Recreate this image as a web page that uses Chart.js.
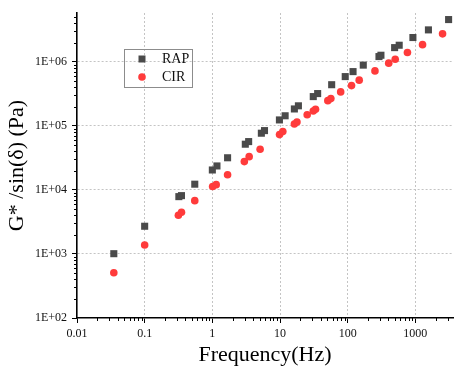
<!DOCTYPE html>
<html>
<head>
<meta charset="utf-8">
<script src="https://cdn.jsdelivr.net/npm/chart.js@4.4.1/dist/chart.umd.min.js"></script>
<style>
  body { margin: 0; background: #fff; }
</style>
</head>
<body>
<canvas id="gstar-chart" width="458" height="367"></canvas>
<script>
// values
const rapFreq = [0.035, 0.1, 0.32, 0.35, 0.55, 1.0, 1.17, 1.68, 3.07, 3.44, 5.3, 5.9, 9.8, 11.9, 16.3, 18.7, 31, 36, 58, 92, 120, 170, 290, 310, 494, 577, 920, 1560, 3100];
const rapG = [1010, 2710, 7860, 8150, 12300, 20500, 23700, 31800, 51800, 56900, 76900, 84500, 124000, 144000, 184000, 206000, 287000, 320000, 440000, 589000, 705000, 890000, 1210000, 1270000, 1670000, 1820000, 2400000, 3160000, 4580000];
const cirFreq = [0.035, 0.1, 0.315, 0.35, 0.55, 1.01, 1.14, 1.68, 2.97, 3.5, 5.08, 9.84, 11.0, 16.3, 17.8, 25.2, 31, 33.5, 50.9, 56.4, 78.8, 114, 148, 253, 404, 504, 764, 1277, 2524];
const cirG = [510, 1380, 4030, 4480, 6800, 11300, 12100, 17300, 27700, 33100, 43300, 73100, 81500, 107000, 115000, 149000, 171000, 182000, 248000, 267000, 340000, 426000, 518000, 723000, 955000, 1100000, 1400000, 1860000, 2740000];

const xTickValues = [0.01, 0.1, 1, 10, 100, 1000];
const xTickLabels = ['0.01', '0.1', '1', '10', '100', '1000'];
const yTickValues = [1e2, 1e3, 1e4, 1e5, 1e6];
const yTickLabels = ['1E+02', '1E+03', '1E+04', '1E+05', '1E+06'];

const serif = 'Liberation Serif';

function toPoints(xs, ys) {
  return xs.map((x, i) => ({x: x, y: ys[i]}));
}

function majorIndex(values, v) {
  return values.findIndex(d => Math.abs(Math.log10(d) - Math.log10(v)) < 1e-6);
}

// ticks at 1..9 of every decade, labels only on the decades
function decadeTicks(axis) {
  const ticks = [];
  const e0 = Math.floor(Math.log10(axis.min));
  const e1 = Math.ceil(Math.log10(axis.max));
  for (let e = e0; e <= e1; e++) {
    for (let m = 1; m <= 9; m++) {
      const v = Number((m * Math.pow(10, e)).toPrecision(12));
      if (v >= axis.min * 0.9999 && v <= axis.max * 1.0001) ticks.push({value: v});
    }
  }
  axis.ticks = ticks;
}

// short minor ticks drawn outside the axes
const minorTicks = {
  id: 'minorTicks',
  afterDraw(chart) {
    const ctx = chart.ctx;
    const area = chart.chartArea;
    ctx.save();
    ctx.strokeStyle = '#000';
    ctx.lineWidth = 1;
    const xs = chart.scales.x, ys = chart.scales.y;
    xs.ticks.forEach(t => {
      if (majorIndex(xTickValues, t.value) >= 0) return;
      const px = Math.round(xs.getPixelForValue(t.value)) + 0.5;
      ctx.beginPath();
      ctx.moveTo(px, area.bottom);
      ctx.lineTo(px, area.bottom + 3);
      ctx.stroke();
    });
    ys.ticks.forEach(t => {
      if (majorIndex(yTickValues, t.value) >= 0) return;
      const py = Math.round(ys.getPixelForValue(t.value)) + 0.5;
      ctx.beginPath();
      ctx.moveTo(area.left - 3, py);
      ctx.lineTo(area.left, py);
      ctx.stroke();
    });
    ctx.restore();
  }
};

// boxed legend inside the plot, like the original
const legendBox = {
  id: 'legendBox',
  afterDraw(chart) {
    const ctx = chart.ctx;
    const area = chart.chartArea;
    const x0 = area.left + 47, y0 = area.top + 36;
    ctx.save();
    ctx.strokeStyle = '#8c8c8c';
    ctx.lineWidth = 1;
    ctx.strokeRect(Math.round(x0) + 0.5, Math.round(y0) + 0.5, 68, 38);
    ctx.font = '14px "' + serif + '"';
    ctx.textBaseline = 'middle';
    chart.data.datasets.forEach((ds, i) => {
      const cx = x0 + 18, cy = y0 + 10 + i * 18;
      ctx.fillStyle = ds.backgroundColor;
      ctx.beginPath();
      if (ds.pointStyle === 'rect') {
        ctx.rect(cx - 3.5, cy - 3.5, 7, 7);
      } else {
        ctx.arc(cx, cy, 3.8, 0, Math.PI * 2);
      }
      ctx.fill();
      ctx.fillStyle = '#111';
      ctx.fillText(ds.label, x0 + 38, cy);
    });
    ctx.restore();
  }
};

function axisOptions(values, labels) {
  return {
    type: 'logarithmic',
    afterBuildTicks: decadeTicks,
    border: { display: true, color: '#000', width: 1.6, dash: [2, 2] },
    grid: {
      color: c => (c.tick && majorIndex(values, c.tick.value) > 0) ? '#c4c4c4' : 'transparent',
      tickColor: c => (c.tick && majorIndex(values, c.tick.value) >= 0) ? '#000' : 'transparent',
      lineWidth: 1,
      tickLength: 5,
      tickWidth: 1
    },
    ticks: {
      autoSkip: false,
      maxRotation: 0,
      minRotation: 0,
      color: '#111',
      font: { family: serif, size: 12 },
      callback: v => {
        const i = majorIndex(values, v);
        return i >= 0 ? labels[i] : '';
      }
    }
  };
}

const xAxis = axisOptions(xTickValues, xTickLabels);
xAxis.min = 0.01;
xAxis.max = 3600;
xAxis.ticks.padding = 4;
xAxis.afterFit = s => { s.height = 49; };
xAxis.title = {
  display: true,
  text: 'Frequency(Hz)',
  color: '#000',
  font: { family: serif, size: 22, lineHeight: 1.1 },
  padding: { top: 0, bottom: 0 }
};

const yAxis = axisOptions(yTickValues, yTickLabels);
yAxis.min = 100;
yAxis.max = 5.8e6;
yAxis.ticks.padding = 5;
yAxis.afterFit = s => { s.width = 77; };
yAxis.title = {
  display: true,
  text: 'G* /sin(δ) (Pa)',
  color: '#000',
  font: { family: serif, size: 22, lineHeight: 1.1 },
  padding: { top: 5.4, bottom: 0 }
};

const gstar_ctx = document.getElementById('gstar-chart').getContext('2d');
const gstarChart = new Chart(gstar_ctx, {
  type: 'scatter',
  plugins: [minorTicks, legendBox],
  data: {
    datasets: [{
      label: 'RAP',
      data: toPoints(rapFreq, rapG),
      pointStyle: 'rect',
      pointRadius: 5,
      backgroundColor: '#4a4a4a',
      borderWidth: 0
    }, {
      label: 'CIR',
      data: toPoints(cirFreq, cirG),
      pointStyle: 'circle',
      pointRadius: 3.8,
      backgroundColor: '#ff3b3b',
      borderWidth: 0
    }]
  },
  options: {
    responsive: false,
    animation: false,
    layout: { padding: { top: 13, right: 0, left: 0, bottom: 0 } },
    plugins: {
      legend: { display: false },
      tooltip: { enabled: false }
    },
    scales: { x: xAxis, y: yAxis }
  }
});
</script>
</body>
</html>
